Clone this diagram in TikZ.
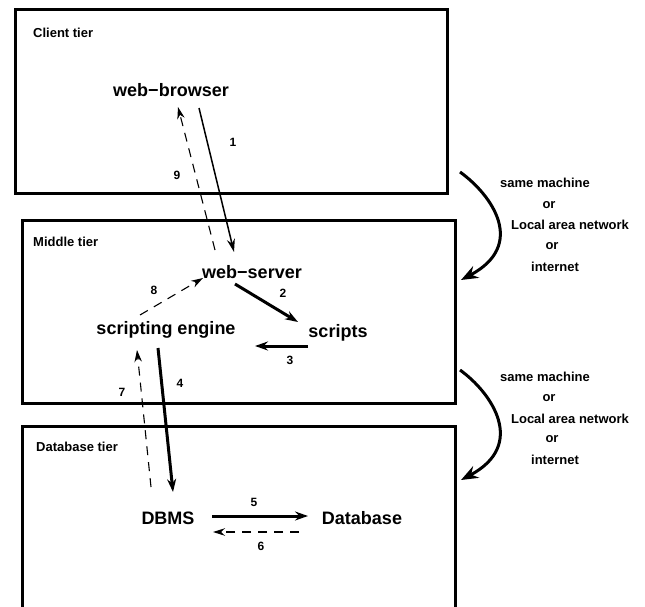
\documentclass[tikz,border=0pt]{standalone}
\usepackage{fontspec}
\setmainfont{Liberation Sans}
\usetikzlibrary{arrows.meta}
\begin{document}
\begin{tikzpicture}[x=1pt,y=-1pt,
  tierbox/.style={line width=3pt},
  tierlabel/.style={font=\fontsize{13}{15}\selectfont\bfseries, anchor=west, inner sep=0pt},
  comp/.style={font=\fontsize{18}{20}\selectfont\bfseries, inner sep=0pt},
  num/.style={font=\fontsize{12}{14}\selectfont\bfseries, inner sep=0pt},
  note/.style={font=\fontsize{13}{15}\selectfont\bfseries, inner sep=0pt},
  thin/.style={line width=1.5pt, -{Stealth[length=13pt,width=8pt]}},
  thick/.style={line width=3pt, -{Stealth[length=13pt,width=9pt]}},
  back/.style={line width=1.1pt, dash pattern=on 9pt off 7pt, -{Stealth[length=12pt,width=7.5pt]}},
  link/.style={line width=3pt, -{Stealth[length=17pt,width=13pt]}}
]
\useasboundingbox (0,0) rectangle (645,607);
\fill[white] (0,0) rectangle (645,607);
% tier boxes
\draw[tierbox] (15,10) rectangle (447,193);
\draw[tierbox] (22,220) rectangle (455,403);
\draw[tierbox] (22,607) -- (22,426) -- (455,426) -- (455,607);
\node[tierlabel] (lclient) at (33,33) {Client tier};
\node[tierlabel] (lmiddle) at (33,242) {Middle tier};
\node[tierlabel] (ldb) at (36,447) {Database tier};
% components
\node[comp] (wb) at (171,90) {web\textminus browser};
\node[comp] (ws) at (252,272) {web\textminus server};
\node[comp] (sc) at (338,333) {scripts};
\node[comp] (se) at (166,330) {scripting engine};
\node[comp] (dbms) at (168,518) {DBMS};
\node[comp] (db) at (362,518) {Database};
% arrow endpoints
\coordinate (a1s) at (199,108); \coordinate (a1e) at (234,252);
\coordinate (a9s) at (215,250); \coordinate (a9e) at (178,107);
\coordinate (a2s) at (235,284); \coordinate (a2e) at (298,322);
\coordinate (a3s) at (308,346); \coordinate (a3e) at (255,346);
\coordinate (a8s) at (140,315); \coordinate (a8e) at (203,278);
\coordinate (a4s) at (158,348); \coordinate (a4e) at (173,492);
\coordinate (a7s) at (151,487); \coordinate (a7e) at (137,350);
\coordinate (a5s) at (212,516); \coordinate (a5e) at (308,516);
\coordinate (a6s) at (299,532); \coordinate (a6e) at (213,532);
\draw[thin] (a1s) -- (a1e);
\draw[back] (a9s) -- (a9e);
\draw[thick] (a2s) -- (a2e);
\draw[thick] (a3s) -- (a3e);
\draw[back] (a8s) -- (a8e);
\draw[thick] (a4s) -- (a4e);
\draw[back] (a7s) -- (a7e);
\draw[thick] (a5s) -- (a5e);
\draw[back] (a6s) -- (a6e);
\node[num] (n1) at (233,142) {1};
\node[num] (n9) at (177,175) {9};
\node[num] (n2) at (283,293) {2};
\node[num] (n3) at (290,360) {3};
\node[num] (n8) at (154,290) {8};
\node[num] (n4) at (180,383) {4};
\node[num] (n7) at (122,392) {7};
\node[num] (n5) at (254,502) {5};
\node[num] (n6) at (261,546) {6};
% inter-tier links
\coordinate (c1s) at (460,172); \coordinate (c1e) at (461,280);
\coordinate (c2s) at (460,370); \coordinate (c2e) at (461,480);
\draw[link] (c1s) .. controls (492,195) and (527,245) .. (c1e);
\draw[link] (c2s) .. controls (492,393) and (527,445) .. (c2e);
\node[note] (t1a) at (545,183) {same machine};
\node[note] (t1b) at (549,205) {or};
\node[note] (t1c) at (570,225) {Local area network};
\node[note] (t1d) at (552,246) {or};
\node[note] (t1e) at (555,267) {internet};
\node[note] (t2a) at (545,377) {same machine};
\node[note] (t2b) at (549,398) {or};
\node[note] (t2c) at (570,419) {Local area network};
\node[note] (t2d) at (552,439) {or};
\node[note] (t2e) at (555,460) {internet};
\end{tikzpicture}
\end{document}
